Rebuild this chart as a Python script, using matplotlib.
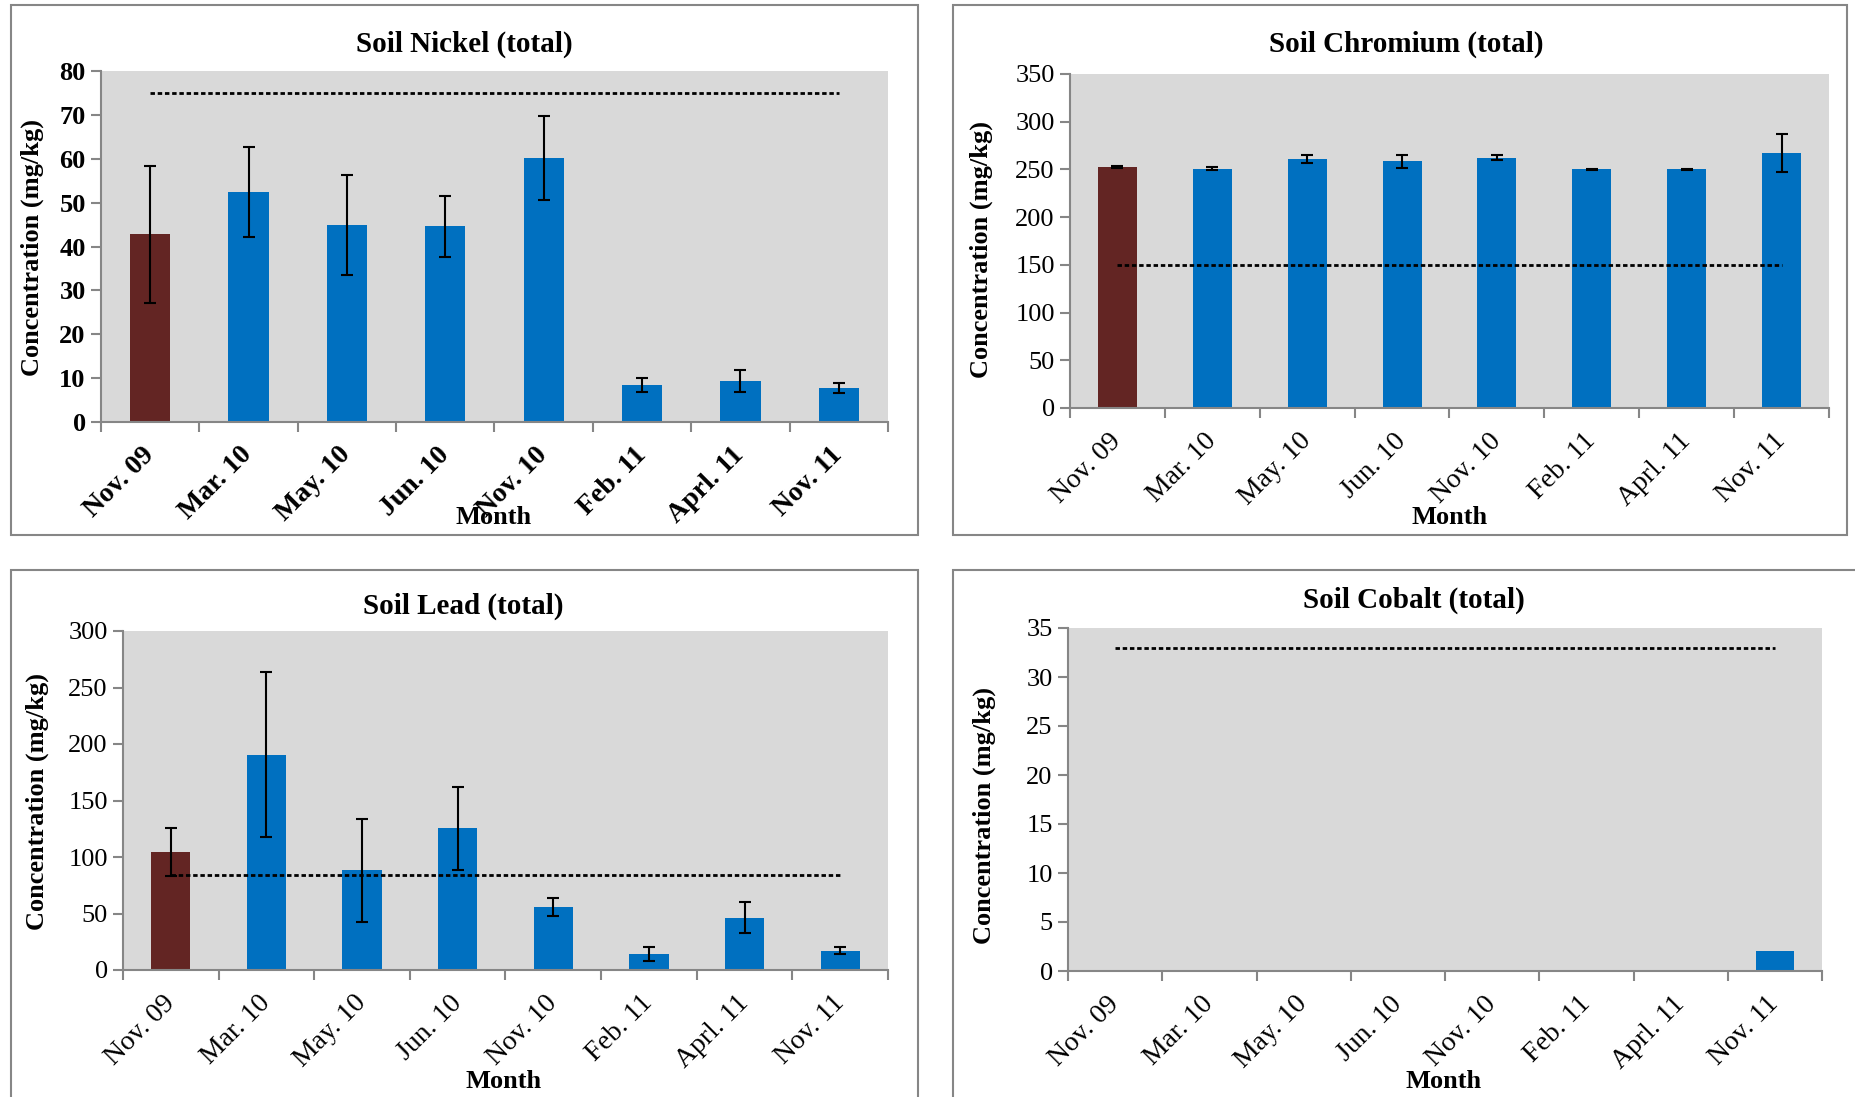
import numpy as np
import matplotlib.pyplot as plt
from matplotlib.patches import Rectangle

plt.rcParams["font.family"] = ["Liberation Serif", "DejaVu Serif"]

months = ["Nov. 09", "Mar. 10", "May. 10", "Jun. 10", "Nov. 10", "Feb. 11", "Aprl. 11", "Nov. 11"]

nickel = [42.8, 52.4, 44.8, 44.6, 60.2, 8.5, 9.3, 7.8]
nickel_err = [15.6, 10.3, 11.4, 7.0, 9.5, 1.6, 2.5, 1.2]
nickel_limit = 75

chromium = [252.3, 250.8, 261.0, 258.5, 262.5, 250.0, 250.0, 267.2]
chromium_err = [1.0, 1.5, 4.0, 6.5, 3.0, 0.3, 0.3, 20.2]
chromium_limit = 150

lead = [104.5, 190.3, 88.2, 125.5, 55.8, 14.2, 46.4, 17.0]
lead_err = [21.0, 73.0, 45.5, 36.8, 8.0, 5.8, 14.0, 3.2]
lead_limit = 84

cobalt = [0, 0, 0, 0, 0, 0, 0, 2.0]
cobalt_limit = 33

BROWN = "#632523"
BLUE = "#0070C0"
BG = "#D9D9D9"
GREY = "#868686"

W, H = 1856, 1097
fig = plt.figure(figsize=(W / 100, H / 100), dpi=100)


def px_axes(left, right, top, bottom):
    return fig.add_axes([left / W, 1 - bottom / H, (right - left) / W, (bottom - top) / H])


def panel_box(left, right, top, bottom):
    fig.patches.append(Rectangle((left / W, 1 - bottom / H), (right - left) / W, (bottom - top) / H,
                                 transform=fig.transFigure, fill=False, edgecolor=GREY, lw=1.5))


def draw_panel(ax, values, errs, limit, ymax, step, title, bold_ticks, box, title_xy, ylab_xy, month_xy):
    x = np.arange(len(months))
    colors = [BROWN] + [BLUE] * (len(months) - 1)
    ax.set_facecolor(BG)
    ax.bar(x, values, width=0.41, color=colors, zorder=2)
    if errs is not None:
        ax.errorbar(x, values, yerr=errs, fmt="none", ecolor="black", elinewidth=1.5,
                    capsize=4.5, capthick=1.5, zorder=3)
    ax.plot(x, [limit] * len(x), color="black", ls=(0, (1.6, 1.0)), lw=2.0, zorder=4)
    ax.set_xlim(-0.5, len(x) - 0.5)
    ax.set_ylim(0, ymax)
    ax.set_yticks(np.arange(0, ymax + step / 2, step))
    ax.set_xticks(x)
    ax.set_xticks(np.arange(-0.5, len(x)), minor=True)
    weight = "bold" if bold_ticks else "normal"
    ax.set_xticklabels(months, rotation=45, ha="right", va="center", rotation_mode="anchor",
                       fontsize=20, fontweight=weight)
    for lab in ax.get_yticklabels():
        lab.set_fontsize(19)
        lab.set_fontweight(weight)
    ax.tick_params(axis="x", which="major", length=0, pad=21)
    ax.tick_params(axis="x", which="minor", length=7, color=GREY, width=1.5, direction="out")
    ax.tick_params(axis="y", length=7, color=GREY, width=1.5, direction="out", pad=4)
    for s in ["top", "right"]:
        ax.spines[s].set_visible(False)
    for s in ["left", "bottom"]:
        ax.spines[s].set_color(GREY)
        ax.spines[s].set_linewidth(1.5)
    panel_box(*box)
    fig.text(title_xy[0] / W, 1 - title_xy[1] / H, title, ha="center", va="center",
             fontsize=21, fontweight="bold")
    fig.text(ylab_xy[0] / W, 1 - ylab_xy[1] / H, "Concentration (mg/kg)", ha="center", va="center",
             rotation=90, fontsize=19, fontweight="bold")
    fig.text(month_xy[0] / W, 1 - month_xy[1] / H, "Month", ha="center", va="center",
             fontsize=19, fontweight="bold")


ax1 = px_axes(101, 888, 71, 422)
draw_panel(ax1, nickel, nickel_err, nickel_limit, 80, 10, "Soil Nickel (total)", True,
           (11, 918, 5, 535), (464, 44), (32, 247), (494, 517))

ax2 = px_axes(1070, 1829, 74, 408)
draw_panel(ax2, chromium, chromium_err, chromium_limit, 350, 50, "Soil Chromium (total)", False,
           (953, 1847, 5, 535), (1406, 44), (981, 249), (1450, 517))

ax3 = px_axes(123, 888, 631, 970)
draw_panel(ax3, lead, lead_err, lead_limit, 300, 50, "Soil Lead (total)", False,
           (11, 918, 570, 1110), (463, 606), (37, 801), (504, 1082))

ax4 = px_axes(1068, 1822, 628, 971)
draw_panel(ax4, cobalt, None, cobalt_limit, 35, 5, "Soil Cobalt (total)", False,
           (953, 1870, 570, 1110), (1414, 600), (984, 815), (1444, 1082))

fig.savefig("out.png", dpi=100)
